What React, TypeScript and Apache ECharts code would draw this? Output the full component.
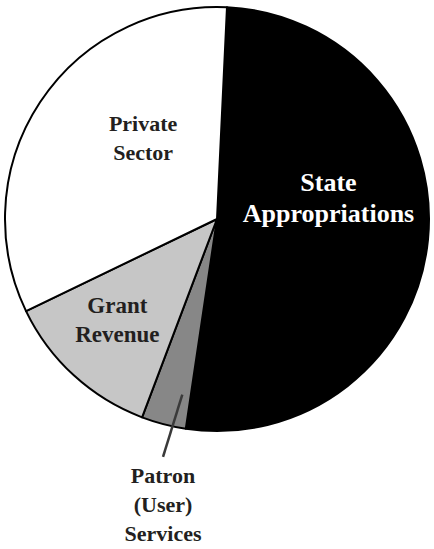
import React, { useEffect, useRef } from 'react';
import * as echarts from 'echarts';

const categories = ['State\nAppropriations', 'Patron\n(User)\nServices', 'Grant\nRevenue', 'Private\nSector'];
const values = [51.6, 3.4, 12.1, 32.9];
const sliceColors = ['#000000', '#878787', '#c6c6c6', '#ffffff'];
const labelColors = ['#ffffff', '#231f20', '#231f20', '#231f20'];
const labelSizes = [26, 22, 23, 22];

const FONT = "'Liberation Serif', 'DejaVu Serif', serif";
const CX = 217;
const CY = 219;
const R = 212;
const START_ANGLE = 87.3; // echarts degrees (90 = top)
const LABEL_SHIFT: number[][] = [[3, -32], [0, 0], [-26, 21], [17, -21]];

// leader line for the small slice, derived from the slice's mid angle
function leader() {
  const total = values.reduce((a, b) => a + b, 0);
  const before = values[0];
  const midFrac = (before + values[1] / 2) / total;
  const theta = 90 - START_ANGLE + midFrac * 360; // clockwise from top
  const a = ((theta - 90) * Math.PI) / 180;
  const a1 = a - (3.4 * Math.PI) / 180;
  const a2 = a - (1.8 * Math.PI) / 180;
  const start = [CX + 179 * Math.cos(a1), CY + 179 * Math.sin(a1)];
  const end = [CX + 244 * Math.cos(a2), CY + 244 * Math.sin(a2)];
  return { start, end };
}

export default function App() {
  const ref = useRef<HTMLDivElement>(null);
  useEffect(() => {
    const chart = echarts.init(ref.current!, null, { renderer: 'svg' });
    const { start, end } = leader();
    chart.setOption({
      animation: false,
      textStyle: { fontFamily: FONT },
      graphic: [
        {
          type: 'line',
          z: 100,
          silent: true,
          shape: { x1: start[0], y1: start[1], x2: end[0], y2: end[1] },
          style: { stroke: '#3a3a3a', lineWidth: 2.5 },
        },
      ],
      series: [
        {
          type: 'pie',
          center: [CX, CY],
          radius: R,
          startAngle: START_ANGLE,
          clockwise: true,
          avoidLabelOverlap: false,
          silent: true,
          emphasis: { disabled: true },
          itemStyle: { borderColor: '#000', borderWidth: 2 },
          label: {
            position: 'inside',
            fontFamily: FONT,
            fontWeight: 'bold',
            fontSize: 22,
            lineHeight: 29,
            formatter: '{b}',
          },
          labelLine: { show: false },
          data: categories.map((name, i) => ({
            name,
            value: values[i],
            itemStyle: { color: sliceColors[i] },
            label: {
              position: i === 1 ? 'outside' : 'inside',
              color: labelColors[i],
              align: 'center',
              fontFamily: FONT,
              fontWeight: 'bold',
              fontSize: labelSizes[i],
              lineHeight: i === 0 ? 31 : 29,
            },
            labelLine: { show: false },
          })),
          labelLayout: (params: any) => {
            const i = params.dataIndex;
            if (i === 1) {
              return {
                x: end[0],
                y: end[1] + 4,
                align: 'center',
                verticalAlign: 'top',
              };
            }
            return { dx: LABEL_SHIFT[i][0], dy: LABEL_SHIFT[i][1] };
          },
        },
      ],
    });
    return () => chart.dispose();
  }, []);
  return <div ref={ref} style={{ position: 'absolute', left: 0, top: 0, width: 434, height: 549 }} />;
}
